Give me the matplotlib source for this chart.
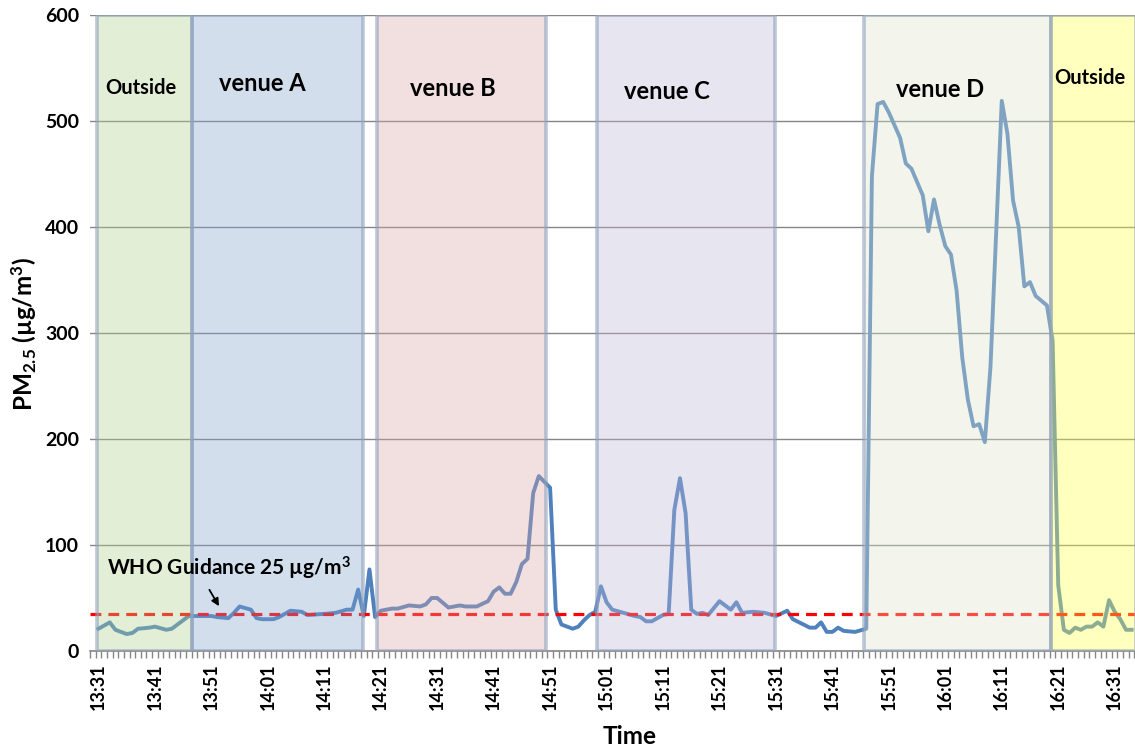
import numpy as np
import matplotlib.pyplot as plt
from matplotlib.colors import to_rgba

plt.rcParams['font.family'] = ['Lato', 'DejaVu Sans']
plt.rcParams['mathtext.fontset'] = 'custom'
plt.rcParams['mathtext.rm'] = 'Lato:bold'
plt.rcParams['mathtext.bf'] = 'Lato:bold'
plt.rcParams['mathtext.it'] = 'Lato:bold'

# minutes after 13:31 and the PM2.5 reading (ug/m3)
minutes = [0, 2, 3, 5, 6, 7, 9, 10, 12, 13, 14, 16,
           20, 21, 23, 24, 25, 27, 28, 29, 31, 32, 34, 36, 37, 40, 42, 44, 45, 46, 47, 48, 49,
           50, 52, 53, 55, 57, 58, 59, 60, 62, 64, 65, 67, 69, 70, 71, 72, 73, 74, 75, 76, 77, 78,
           80, 81, 82, 84, 85, 86, 87, 88,
           89, 90, 91, 93, 95, 96, 97, 98, 100, 101, 102, 103, 104, 105, 106, 107, 108, 110, 112,
           113, 114, 116, 118, 120, 122, 123, 126, 127, 128, 129, 130, 131, 132, 134, 136,
           137, 138, 139, 140, 142, 143, 144, 146, 147, 148, 149, 150, 151, 152, 153, 154, 155,
           156, 157, 158, 159, 160, 161, 162, 163, 164, 165, 166, 168, 169, 170, 171, 172, 173,
           174, 175, 176, 177, 178, 179, 180, 181, 182, 183]
pm25 = [21, 27, 20, 16, 17, 21, 22, 23, 20, 21, 25, 33,
        33, 32, 31, 36, 42, 39, 31, 30, 30, 32, 38, 37, 34, 35, 36, 39, 39, 58, 33, 77, 32,
        38, 40, 40, 43, 42, 44, 50, 50, 41, 43, 42, 42, 47, 56, 60, 54, 54, 65, 82, 87, 149, 165,
        154, 39, 25, 21, 23, 29, 34, 37,
        61, 46, 39, 36, 33, 32, 28, 28, 34, 35, 133, 163, 130, 39, 35, 36, 34, 47, 39,
        46, 36, 37, 36, 33, 38, 30, 22, 22, 27, 18, 18, 22, 19, 18, 21,
        448, 516, 518, 508, 484, 460, 455, 430, 396, 426, 402, 382, 374, 340, 277, 237, 212,
        214, 197, 268, 394, 519, 488, 425, 400, 344, 348, 335, 326, 293, 62, 20, 17, 22,
        20, 23, 23, 27, 23, 48, 37, 30, 20, 20]

who_level = 35

zone_names = ['Outside', 'venue A', 'venue B', 'venue C', 'venue D', 'Outside']
zone_start = [-0.2, 16.5, 49.4, 88.3, 135.6, 168.7]
zone_end = [16.5, 46.9, 79.3, 119.8, 168.7, 183.8]
zone_colors = ['#AFD18A', '#81A1CE', '#DAA6A6', '#BDB5D4', '#DDE5CC', '#FFFF45']

tick_pos = [0, 10, 20, 30, 40, 50, 60, 70, 80, 90, 100, 110, 120, 130, 140, 150, 160, 170, 180]
tick_labels = ['13:31', '13:41', '13:51', '14:01', '14:11', '14:21', '14:31', '14:41', '14:51',
               '15:01', '15:11', '15:21', '15:31', '15:41', '15:51', '16:01', '16:11', '16:21', '16:31']

fig = plt.figure(figsize=(11.35, 7.49), dpi=100)
ax = fig.add_axes([90 / 1135, 98 / 749, 1045 / 1135, 636 / 749])

ax.plot(minutes, pm25, color='#4F81BD', lw=2.8, zorder=2, solid_joinstyle='round')
ax.axhline(who_level, color='#FF0000', lw=2.3, ls=(0, (3.4, 2.2)), zorder=2)

for s, e, c in zip(zone_start, zone_end, zone_colors):
    ax.axvspan(s, e, fc=to_rgba(c, 0.35), ec=to_rgba('#8EA0BC', 0.6), lw=2.6, zorder=3)

# zone titles
ax.text(7.6, 531, zone_names[0], fontsize=14.5, fontweight='bold', ha='center', va='center', zorder=5)
ax.text(29, 535, zone_names[1], fontsize=17, fontweight='bold', ha='center', va='center', zorder=5)
ax.text(62.7, 531, zone_names[2], fontsize=17, fontweight='bold', ha='center', va='center', zorder=5)
ax.text(100.7, 528, zone_names[3], fontsize=17, fontweight='bold', ha='center', va='center', zorder=5)
ax.text(149, 530, zone_names[4], fontsize=17, fontweight='bold', ha='center', va='center', zorder=5)
ax.text(175.6, 541, zone_names[5], fontsize=14.5, fontweight='bold', ha='center', va='center', zorder=5)

ax.text(1.5, 78, 'WHO Guidance 25 \u00b5g/m$^3$', fontsize=15, fontweight='bold',
        ha='left', va='center', zorder=5)
ax.annotate('', xy=(21.6, 40), xytext=(19.4, 60),
            arrowprops=dict(arrowstyle='-|>', color='black', lw=1.3, mutation_scale=11), zorder=5)

ax.set_xlim(-1.4, 183.6)
ax.set_ylim(0, 600)
ax.set_yticks(range(0, 601, 100))
ax.yaxis.grid(True, color='#868686', lw=1)
ax.set_axisbelow(True)
for sp in ['left', 'right', 'top']:
    ax.spines[sp].set_visible(False)
ax.spines['bottom'].set_color('#868686')
ax.spines['bottom'].set_linewidth(1.2)
ax.tick_params(axis='y', length=0, pad=8, labelsize=14)
for lab in ax.get_yticklabels():
    lab.set_fontweight('bold')

ax.set_xticks(tick_pos)
ax.set_xticklabels(tick_labels, rotation=90, fontsize=13, fontweight='bold')
ax.set_xticks(np.arange(-1.5, 184, 1), minor=True)
ax.tick_params(axis='x', which='major', length=0, pad=9)
ax.tick_params(axis='x', which='minor', length=5, color='#868686', width=1)

fig.text(24 / 1135, 1 - 334 / 749, 'PM$_{2.5}$ (\u00b5g/m$^3$)',
         rotation=90, fontsize=17.5, fontweight='bold', ha='center', va='center')
fig.text(630 / 1135, 1 - 737 / 749, 'Time', fontsize=17.5, fontweight='bold', ha='center', va='center')

fig.savefig('out.png', dpi=100)
